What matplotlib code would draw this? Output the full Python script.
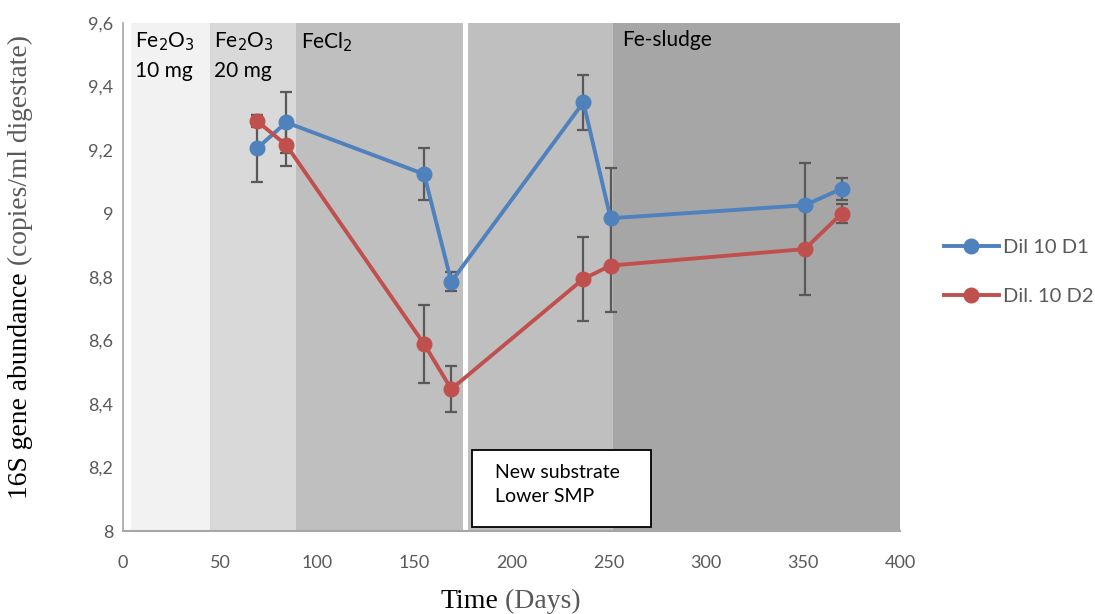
import matplotlib
matplotlib.use("Agg")
import matplotlib.pyplot as plt
from matplotlib.patches import Rectangle

# ---- data ----
days = [69, 84, 155, 169, 237, 251, 351, 370]
d1 = [9.205, 9.287, 9.124, 8.785, 9.350, 8.985, 9.026, 9.078]
d1_err = [0.105, 0.097, 0.083, 0.030, 0.087, 0.157, 0.133, 0.034]
d2 = [9.291, 9.216, 8.589, 8.447, 8.794, 8.836, 8.888, 9.000]
d2_err = [0.020, 0.066, 0.123, 0.073, 0.133, 0.147, 0.145, 0.030]
series_names = ["Dil 10 D1", "Dil. 10 D2"]

# phase regions
phase_start = [4, 45, 89, 177.5, 252]
phase_end = [45, 89, 175, 252, 400]
phase_colors = ["#f2f2f2", "#d9d9d9", "#bfbfbf", "#bfbfbf", "#a6a6a6"]
phase_labels = ["Fe$_2$O$_3$\n10 mg", "Fe$_2$O$_3$\n20 mg", "FeCl$_2$", "", "Fe-sludge"]
label_offsets = [2, 2, 2.5, 0, 5]   # layout: text inset (days) from region start

xticks = [0, 50, 100, 150, 200, 250, 300, 350, 400]
yticks = [8.0, 8.2, 8.4, 8.6, 8.8, 9.0, 9.2, 9.4, 9.6]
ytick_labels = ["8", "8,2", "8,4", "8,6", "8,8", "9", "9,2", "9,4", "9,6"]

blue = "#4f81bd"
red = "#c0504d"
errc = "#595959"
tickc = "#595959"

fig = plt.figure(figsize=(10.95, 6.14), dpi=100)
ax = fig.add_axes([123/1095, 1-531/614, (900-123)/1095, (531-23)/614])

for s, e, c, lab, off in zip(phase_start, phase_end, phase_colors, phase_labels, label_offsets):
    ax.axvspan(s, e, color=c, lw=0, zorder=0)
    if lab:
        ax.text(s + off, 9.578, lab, ha="left", va="top", fontsize=15,
                family="Lato", color="#000000", linespacing=1.5, zorder=1)

# white separator
ax.axvspan(175, 177.5, color="white", lw=0, zorder=0.5)

ax.errorbar(days, d1, yerr=d1_err, fmt="none", ecolor=errc, elinewidth=1.6,
            capsize=4.5, capthick=1.6, zorder=2)
ax.errorbar(days, d2, yerr=d2_err, fmt="none", ecolor=errc, elinewidth=1.6,
            capsize=4.5, capthick=1.6, zorder=2)
l1, = ax.plot(days, d1, color=blue, lw=2.8, marker="o", ms=10.5, zorder=3,
              label=series_names[0])
l2, = ax.plot(days, d2, color=red, lw=2.8, marker="o", ms=10.5, zorder=3,
              label=series_names[1])

# text box
ax.add_patch(Rectangle((179.6, 8.013), 92, 0.242, facecolor="white",
                       edgecolor="black", lw=1.3, zorder=4))
ax.text(191.5, 8.145, "New substrate\nLower SMP", ha="left", va="center",
        fontsize=14, family="Lato", color="#000000", linespacing=1.5, zorder=5)

ax.set_xlim(0, 400)
ax.set_ylim(8.0, 9.6)
ax.set_xticks(xticks)
ax.set_yticks(yticks)
ax.set_yticklabels(ytick_labels)
ax.tick_params(length=0, labelsize=13, labelcolor=tickc)
ax.tick_params(axis="y", pad=7)
ax.tick_params(axis="x", pad=17)
for lab in ax.get_xticklabels() + ax.get_yticklabels():
    lab.set_family("Lato")

for sp in ["top", "right"]:
    ax.spines[sp].set_visible(False)
ax.spines["left"].set_color("#a6a6a6")
ax.spines["left"].set_linewidth(1.2)
ax.spines["bottom"].set_color("#a6a6a6")
ax.spines["bottom"].set_linewidth(1.5)

# axis labels with two colours
xsplit = 498/1095
fig.text(xsplit, 0.0, "Time", ha="right", va="bottom", fontsize=20,
         family="Liberation Serif", color="black")
fig.text(xsplit, 0.0, " (Days)", ha="left", va="bottom", fontsize=20,
         family="Liberation Serif", color="#595959")
ysplit = 1 - 272/614
fig.text(0.007, ysplit, "16S gene abundance", ha="left", va="top", rotation=90,
         fontsize=19.8, family="Liberation Serif", color="black")
fig.text(0.007, ysplit, " (copies/ml digestate)", ha="left", va="bottom", rotation=90,
         fontsize=19.8, family="Liberation Serif", color="#595959")

leg = fig.legend(handles=[l1, l2], loc="center left",
                 bbox_to_anchor=(926/1095, 1-272/614), frameon=False,
                 labelspacing=1.55, handlelength=2.7,
                 handletextpad=0.2, prop={"family": "Lato", "size": 14.5})
for t in leg.get_texts():
    t.set_color("#595959")

fig.savefig("out.png", dpi=100)
